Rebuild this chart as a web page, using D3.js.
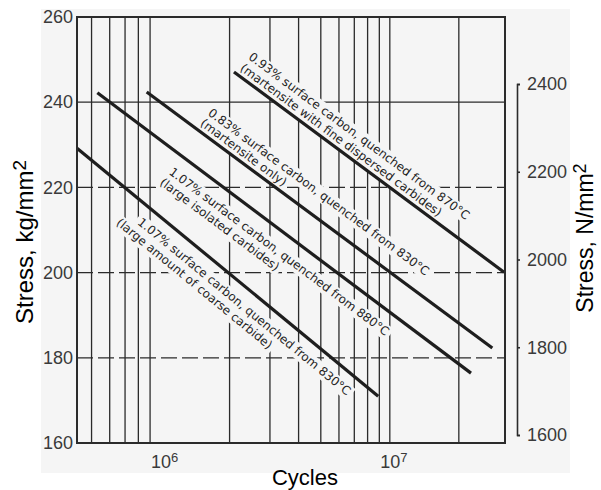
<!DOCTYPE html>
<html>
<head>
<meta charset="utf-8">
<script src="https://cdn.jsdelivr.net/npm/d3@7"></script>
<style>
body { margin: 0; background: #fff; }
text { font-family: "Liberation Sans", Arial, sans-serif; }
</style>
</head>
<body>
<script>
var w = 601;
var h = 490;

// four fatigue lines: start / end points
var startCycles = [2.09e6, 8.7e5, 5.3e5, 4.32e5];
var startStress = [247.1, 242.4, 242.2, 229.2];
var endCycles = [3.15e7, 2.8e7, 2.26e7, 8.9e6];
var endStress = [200.1, 182.3, 176.4, 171.0];

var labelTop = [
    "0.93% surface carbon, quenched from 870°C",
    "0.83% surface carbon, quenched from 830°C",
    "1.07% surface carbon, quenched from 880°C",
    "1.07% surface carbon, quenched from 830°C"
];
var labelBottom = [
    "(martensite with fine dispersed carbides)",
    "(martensite only)",
    "(large isolated carbides)",
    "(large amount of coarse carbide)"
];

var stressTicks = [160, 180, 200, 220, 240, 260];
var newtonTicks = [1600, 1800, 2000, 2200, 2400];
var gridCycles = [5e5, 6e5, 7e5, 8e5, 9e5, 2e6, 3e6, 4e6, 5e6, 6e6, 7e6, 8e6, 9e6, 1e7, 2e7];
var decadeTicks = [1e6, 1e7];
var decadeExp = ["6", "7"];

// label placement along / across each line (px)
var labelAlong = [[3, 3], [62, 62], [105, 104], [94, 78]];
var labelPerp = [[19, 5], [18, 5], [-22, -36], [-20, -34]];

var plotL = 77, plotR = 505, plotT = 17, plotB = 443;
var ink = "#2b2b2b";
var paper = "#f5f5f5";

var x = d3.scaleLog().domain([4.32e5, 3.18e7]).range([plotL, plotR]);
var y = d3.scaleLinear().domain([160, 260]).range([plotB, plotT]);
var yN = d3.scaleLinear().domain([1600, 2400]).range([435, 84]);

var svg = d3.select("body")
    .append("svg")
    .attr("width", w)
    .attr("height", h);

// scanned paper
svg.append("rect")
    .attr("x", 41).attr("y", 9)
    .attr("width", 529).attr("height", 464)
    .attr("fill", paper);

// grid
svg.append("g")
    .selectAll("line")
    .data(gridCycles)
    .join("line")
    .attr("x1", function (d) { return x(d); })
    .attr("x2", function (d) { return x(d); })
    .attr("y1", plotT)
    .attr("y2", plotB)
    .attr("stroke", ink)
    .attr("stroke-width", 1.3);

svg.append("g")
    .selectAll("line")
    .data(stressTicks.slice(1, -1))
    .join("line")
    .attr("x1", plotL)
    .attr("x2", plotR)
    .attr("y1", function (d) { return y(d); })
    .attr("y2", function (d) { return y(d); })
    .attr("stroke", ink)
    .attr("stroke-width", 1.3)
    .attr("stroke-dasharray", function (d) { return d === 240 ? null : "16,5"; });

// line labels, with a paper-coloured patch that knocks out the grid
var idx = d3.range(startCycles.length);

function geom(i) {
    var x0 = x(startCycles[i]), y0 = y(startStress[i]);
    var x1 = x(endCycles[i]), y1 = y(endStress[i]);
    return { x0: x0, y0: y0, a: Math.atan2(y1 - y0, x1 - x0) * 180 / Math.PI };
}

var labels = svg.append("g")
    .selectAll("g")
    .data(idx)
    .join("g")
    .attr("transform", function (i) {
        var g = geom(i);
        return "translate(" + g.x0 + "," + g.y0 + ") rotate(" + g.a + ")";
    });

labels.each(function (i) {
    var g = d3.select(this);
    [labelTop[i], labelBottom[i]].forEach(function (s, j) {
        var a = labelAlong[i][j], p = labelPerp[i][j];
        var patch = g.append("rect").attr("fill", paper);
        var t = g.append("text")
            .attr("x", a)
            .attr("y", -p)
            .style("font-family", "'DejaVu Sans', sans-serif")
            .style("font-size", "12px")
            .attr("fill", "#1f1f1f")
            .text(s);
        var len = t.node().getComputedTextLength();
        patch.attr("x", a - 3).attr("y", -p - 11)
            .attr("width", len + 6).attr("height", 15);
    });
});

// fatigue lines
svg.append("g")
    .selectAll("line")
    .data(idx)
    .join("line")
    .attr("x1", function (i) { return x(startCycles[i]); })
    .attr("y1", function (i) { return y(startStress[i]); })
    .attr("x2", function (i) { return x(endCycles[i]); })
    .attr("y2", function (i) { return y(endStress[i]); })
    .attr("stroke", "#1e1e1e")
    .attr("stroke-width", 3.2);

// frame
svg.append("rect")
    .attr("x", plotL).attr("y", plotT)
    .attr("width", plotR - plotL).attr("height", plotB - plotT)
    .attr("fill", "none")
    .attr("stroke", ink)
    .attr("stroke-width", 2);

// left axis
var ax = svg.append("g")
    .attr("transform", "translate(" + plotL + ",0)")
    .call(d3.axisLeft(y).tickValues(stressTicks).tickSize(0).tickPadding(4));
ax.select(".domain").remove();
ax.selectAll("text")
    .style("font-size", "18px")
    .attr("fill", "#3a3a3a");

// right axis, N/mm2
var axN = svg.append("g")
    .attr("transform", "translate(517,0)")
    .call(d3.axisRight(yN).tickValues(newtonTicks).tickFormat(d3.format("d"))
        .tickSize(3).tickSizeOuter(3).tickPadding(7));
axN.select(".domain").attr("stroke", ink).attr("stroke-width", 1.6);
axN.selectAll("line").attr("stroke", ink).attr("stroke-width", 1.6);
axN.selectAll("text")
    .style("font-size", "18px")
    .attr("fill", "#3a3a3a");

// decade labels
var dec = svg.append("g")
    .selectAll("text")
    .data(decadeTicks)
    .join("text")
    .attr("x", function (d) { return x(d) + 4; })
    .attr("y", 468)
    .attr("text-anchor", "middle")
    .style("font-size", "18px")
    .attr("fill", "#3a3a3a");
dec.append("tspan").text("10");
dec.append("tspan")
    .attr("dy", -6)
    .style("font-size", "13px")
    .text(function (d, i) { return decadeExp[i]; });

// titles
svg.append("text")
    .attr("x", 305).attr("y", 485)
    .attr("text-anchor", "middle")
    .style("font-size", "22px")
    .attr("fill", "#000")
    .text("Cycles");

function title(t, cx, cy, size) {
    var el = svg.append("text")
        .attr("transform", "translate(" + cx + "," + cy + ") rotate(-90)")
        .attr("text-anchor", "middle")
        .style("font-size", size + "px")
        .attr("fill", "#000");
    el.append("tspan").text(t);
    el.append("tspan").attr("dy", -7).style("font-size", (size - 5) + "px").text("2");
}
title("Stress, kg/mm", 33, 242, 24);
title("Stress, N/mm", 593, 238, 23);
</script>
</body>
</html>
